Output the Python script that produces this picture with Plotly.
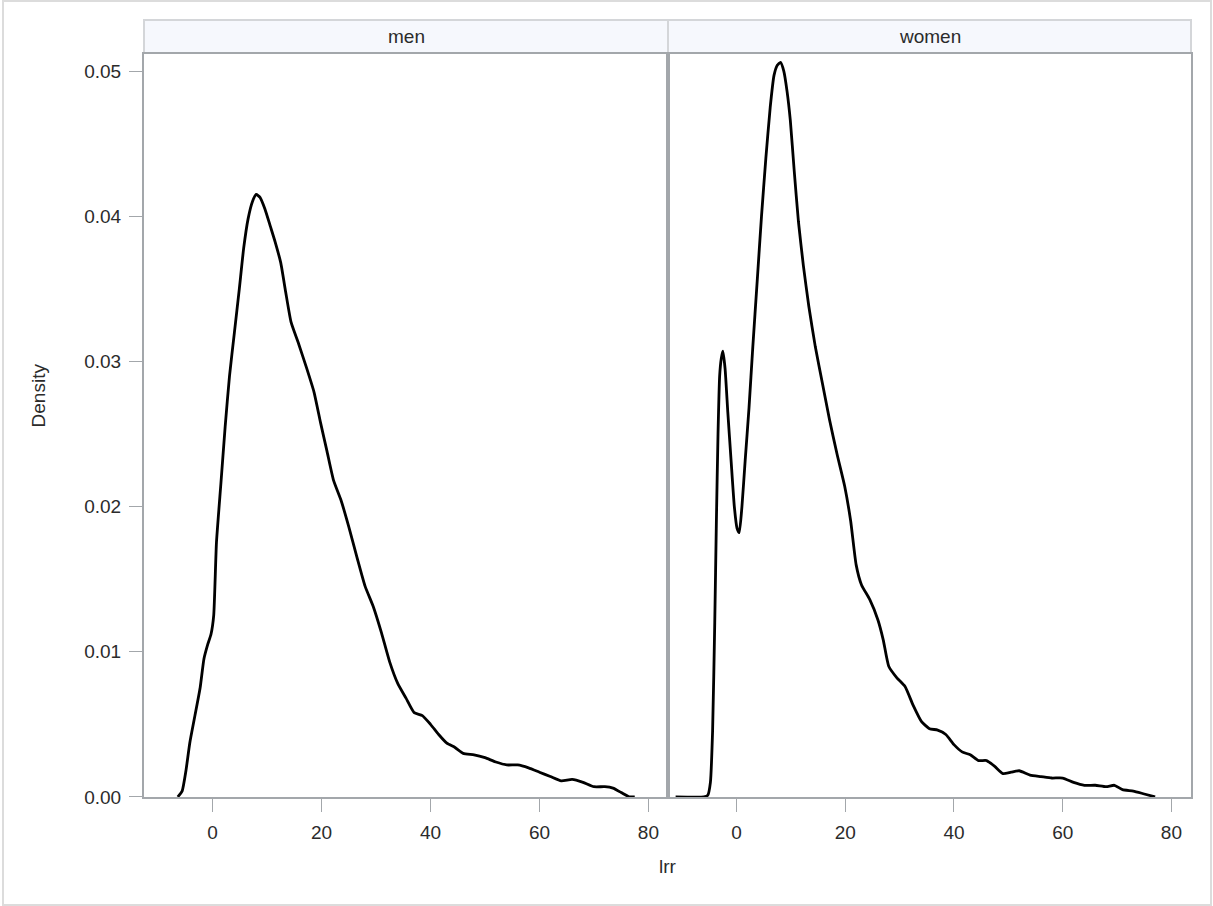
import plotly.graph_objects as go

# ---- data ----
panels = ["men", "women"]
tick_vals_x = [0, 20, 40, 60, 80]
tick_vals_y = [0.00, 0.01, 0.02, 0.03, 0.04, 0.05]

men_x = [-6.4, -5.6, -4.9, -4.2, -3.3, -2.3, -1.6, -0.9, -0.3, 0.2, 0.7, 1.5, 2.3, 3.1, 4.0, 4.9,
         5.7, 6.5, 7.3, 8.0, 8.7, 9.6, 10.6, 11.5, 12.5, 13.4, 14.4, 15.8, 17.2, 18.6, 19.8, 21.0,
         22.2, 23.6, 25.0, 26.5, 28.0, 29.5, 31.0, 32.5, 34.0, 35.5, 37.0, 38.5, 40.0, 41.5, 43.0,
         44.5, 46.0, 48.0, 50.0, 52.0, 54.0, 56.0, 58.0, 60.0, 62.0, 64.0, 66.0, 68.0, 70.0, 72.0,
         73.5, 75.0, 76.5, 77.5]
men_y = [0.0, 0.0004, 0.0018, 0.0037, 0.0055, 0.0075, 0.0095, 0.0105, 0.0112, 0.0125, 0.0175,
         0.0215, 0.0255, 0.0290, 0.0320, 0.0350, 0.0378, 0.0398, 0.0410, 0.0415, 0.0413, 0.0405,
         0.0393, 0.0382, 0.0368, 0.0348, 0.0327, 0.0312, 0.0296, 0.0279, 0.0258, 0.0238, 0.0218,
         0.0204, 0.0186, 0.0165, 0.0145, 0.0131, 0.0113, 0.0093, 0.0078, 0.0068, 0.0058, 0.0056,
         0.0050, 0.0043, 0.0037, 0.0034, 0.0030, 0.0029, 0.0027, 0.0024, 0.0022, 0.0022, 0.0020,
         0.0017, 0.0014, 0.0011, 0.0012, 0.0010, 0.0007, 0.0007, 0.0006, 0.0003, 0.0000, 0.0]

women_x = [-11.2, -6.0, -5.3, -4.8, -4.4, -4.0, -3.7, -3.4, -3.1, -2.8, -2.5, -2.1, -1.6, -1.0,
           -0.4, 0.1, 0.5, 1.0, 1.6, 2.3, 3.0, 3.8, 4.6, 5.4, 6.2, 6.9, 7.5, 8.1, 8.7, 9.3, 9.9,
           10.6, 11.4, 12.3, 13.3, 14.5, 15.8, 17.1, 18.5, 19.9, 21.0, 22.0, 23.0, 24.5, 26.0,
           27.0, 28.0, 29.5, 31.0, 32.5, 34.0, 35.5, 37.0, 38.5, 40.0, 41.5, 43.0, 44.5, 46.0,
           47.5, 49.0, 50.5, 52.0, 54.0, 56.0, 58.0, 60.0, 62.0, 64.0, 66.0, 68.0, 69.5, 71.0,
           73.0, 75.0, 77.0]
women_y = [0.0, 0.0, 0.0001, 0.0010, 0.0045, 0.0120, 0.0190, 0.0250, 0.0290, 0.0302, 0.0307,
           0.0295, 0.0265, 0.0232, 0.0200, 0.0185, 0.0182, 0.0200, 0.0232, 0.0268, 0.0310, 0.0355,
           0.0400, 0.0440, 0.0475, 0.0497, 0.0504, 0.0506, 0.0500, 0.0486, 0.0466, 0.0432, 0.0396,
           0.0366, 0.0338, 0.0310, 0.0285, 0.0260, 0.0236, 0.0214, 0.0190, 0.0160, 0.0146, 0.0136,
           0.0122, 0.0108, 0.0090, 0.0082, 0.0076, 0.0063, 0.0052, 0.0047, 0.0046, 0.0043, 0.0036,
           0.0031, 0.0029, 0.0025, 0.0025, 0.0021, 0.0016, 0.0017, 0.0018, 0.0015, 0.0014, 0.0013,
           0.0013, 0.0010, 0.0008, 0.0008, 0.0007, 0.0008, 0.0005, 0.0004, 0.0002, 0.0]

# ---- layout geometry (reference pixels) ----
W, H = 1213, 906
H_LAYOUT = 918
def px(x):
    return x / W
def py(y):
    return 1 - y / H

left, mid, right = 144, 668, 1191
top, bottom = 54, 796
hdr_top, hdr_bot = 20, 53

FONT = "Liberation Sans"
FS = 19
TXT = "#2b2b2b"
AX = "#a3a7ab"

fig = go.Figure()
fig.add_trace(go.Scatter(x=men_x, y=men_y, mode="lines", xaxis="x", yaxis="y",
                         line=dict(color="black", width=2.8, shape="spline", smoothing=0.5),
                         showlegend=False, hoverinfo="skip"))
fig.add_trace(go.Scatter(x=women_x, y=women_y, mode="lines", xaxis="x2", yaxis="y2",
                         line=dict(color="black", width=2.8, shape="spline", smoothing=0.5),
                         showlegend=False, hoverinfo="skip"))

xr = [-12.6, 83.6]
yr = [0, 0.05117]
common_x = dict(range=xr, tickvals=tick_vals_x, ticks="outside", ticklen=13, tickcolor=AX,
                showline=True, linecolor=AX, linewidth=2, mirror=True, showgrid=False,
                zeroline=False, tickfont=dict(family=FONT, size=FS, color=TXT),
                ticklabelstandoff=4)
fig.update_layout(
    width=W, height=H_LAYOUT, margin=dict(l=0, r=0, t=0, b=0),
    paper_bgcolor="white", plot_bgcolor="white",
    xaxis=dict(domain=[px(left), px(mid)], anchor="y", **common_x),
    xaxis2=dict(domain=[px(mid), px(right)], anchor="y2", **common_x),
    yaxis=dict(domain=[py(bottom), py(top)], anchor="x", range=yr, tickvals=tick_vals_y,
               tickformat=".2f", ticks="outside", ticklen=13, tickcolor=AX,
               showline=True, linecolor=AX, linewidth=2, mirror=True, showgrid=False,
               zeroline=False, tickfont=dict(family=FONT, size=FS, color=TXT),
               ticklabelstandoff=4),
    yaxis2=dict(domain=[py(bottom), py(top)], anchor="x2", range=yr, tickvals=tick_vals_y,
                showticklabels=False, ticks="", showline=True, linecolor=AX, linewidth=2,
                mirror=True, showgrid=False, zeroline=False),
)

shapes = []
annotations = []
for i, (name, x0, x1) in enumerate([(panels[0], left, mid), (panels[1], mid, right)]):
    shapes.append(dict(type="rect", xref="paper", yref="paper",
                       x0=px(x0), x1=px(x1), y0=py(hdr_bot), y1=py(hdr_top),
                       fillcolor="#f6f8fd", line=dict(color="#d4d6d9", width=2), layer="below"))
    annotations.append(dict(text=name, xref="paper", yref="paper", x=px((x0 + x1) / 2),
                            y=py((hdr_top + hdr_bot) / 2), showarrow=False,
                            xanchor="center", yanchor="middle",
                            font=dict(family=FONT, size=FS, color=TXT)))
# outer border
shapes.append(dict(type="rect", xref="paper", yref="paper", x0=px(3), x1=px(1211),
                   y0=py(904), y1=py(1), line=dict(color="#dcdcdc", width=2)))
annotations.append(dict(text="lrr", xref="paper", yref="paper", x=px(668), y=py(866),
                        showarrow=False, xanchor="center", yanchor="middle",
                        font=dict(family=FONT, size=FS, color=TXT)))
annotations.append(dict(text="Density", xref="paper", yref="paper", x=px(38), y=py(395),
                        showarrow=False, xanchor="center", yanchor="middle", textangle=-90,
                        font=dict(family=FONT, size=FS, color=TXT)))
fig.update_layout(shapes=shapes, annotations=annotations)

post = ("var d=document.getElementById('{plot_id}');"
        "d.style.position='fixed';d.style.top='0px';d.style.left='0px';"
        "document.body.style.margin='0';document.body.style.overflow='hidden';"
        "document.documentElement.style.overflow='hidden';")
fig.write_html("out.html", config={"displayModeBar": False}, post_script=post)
